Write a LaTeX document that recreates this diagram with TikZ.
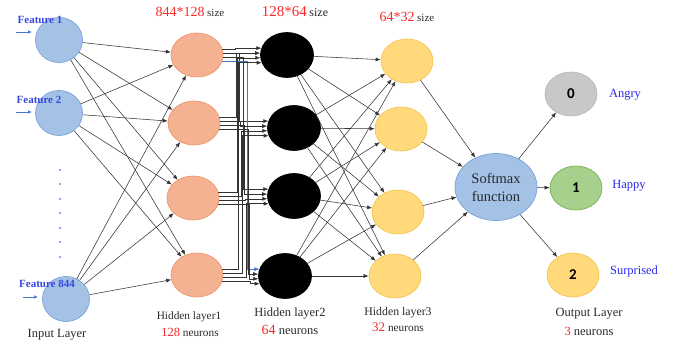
\documentclass[tikz,border=0pt]{standalone}
\usepackage{fontspec}
\setmainfont{Liberation Serif}
\newfontfamily\digitfont{Carlito}
\usetikzlibrary{shapes.geometric,arrows.meta}
\definecolor{inpfill}{RGB}{164,194,230}
\definecolor{inpdraw}{RGB}{120,162,214}
\definecolor{hofill}{RGB}{244,178,146}
\definecolor{hodraw}{RGB}{238,150,110}
\definecolor{hyfill}{RGB}{255,217,122}
\definecolor{hydraw}{RGB}{244,196,84}
\definecolor{grfill}{RGB}{200,200,200}
\definecolor{grdraw}{RGB}{186,186,186}
\definecolor{gnfill}{RGB}{168,208,141}
\definecolor{gndraw}{RGB}{120,175,80}
\definecolor{redc}{RGB}{250,40,40}
\definecolor{bluec}{RGB}{40,40,235}
\definecolor{featblue}{RGB}{55,70,225}
\definecolor{arrblue}{RGB}{70,120,200}
\definecolor{txt}{RGB}{40,40,40}
\tikzset{
  neuron/.style={ellipse, line width=0.7pt, inner sep=0pt},
  inp/.style={neuron, fill=inpfill, draw=inpdraw, minimum width=47pt, minimum height=45pt},
  hone/.style={neuron, fill=hofill, draw=hodraw, minimum width=52pt, minimum height=44pt},
  htwo/.style={neuron, fill=black, draw=black, minimum width=53pt, minimum height=45pt},
  hthree/.style={neuron, fill=hyfill, draw=hydraw, minimum width=52pt, minimum height=44pt},
  smax/.style={neuron, fill=inpfill, draw=inpdraw, minimum width=82pt, minimum height=67pt, align=center, text=txt, font=\fontsize{14.5}{18}\selectfont},
  outn/.style={neuron, minimum width=52pt, minimum height=44pt, font=\digitfont\bfseries\fontsize{15}{17}\selectfont, text=black},
  conn/.style={draw=black!80, line width=0.55pt, -{Latex[length=5pt,width=4pt]}},
  busline/.style={draw=black!80, line width=0.55pt, -{Latex[length=5pt,width=4pt]}},
  featarrow/.style={draw=arrblue, line width=0.7pt, -{Latex[length=4pt,width=3.5pt]}},
  lbl/.style={text=txt, inner sep=0pt, align=center},
  cls/.style={text=bluec, inner sep=0pt, font=\fontsize{12.5}{14}\selectfont},
  feat/.style={text=featblue, inner sep=0pt, font=\bfseries\fontsize{11}{13}\selectfont}
}
\begin{document}
\begin{tikzpicture}[x=1pt,y=-1pt]
\useasboundingbox (0,0) rectangle (674,342);

% input layer
\node[inp] (I1) at (59,40) {};
\node[inp] (I2) at (59,113) {};
\node[inp] (I3) at (66,299) {};
\foreach \y in {170,184,199,213,228,242,257} \fill[featblue] (60,\y) circle (0.9pt);

% hidden layer 1
\node[hone] (A1) at (197,55) {};
\node[hone] (A2) at (194,123) {};
\node[hone] (A3) at (193,198) {};
\node[hone] (A4) at (197,275) {};

% hidden layer 2
\node[htwo] (B1) at (287,55) {};
\node[htwo] (B2) at (294,128) {};
\node[htwo] (B3) at (294,196) {};
\node[htwo] (B4) at (285,276) {};

% hidden layer 3
\node[hthree] (C1) at (407,61) {};
\node[hthree] (C2) at (401,129) {};
\node[hthree] (C3) at (398,212) {};
\node[hthree] (C4) at (395,276) {};

% softmax and outputs
\node[smax] (S) at (496,187) {Softmax\\function};
\node[outn, fill=grfill, draw=grdraw] (O0) at (571,94) {0};
\node[outn, fill=gnfill, draw=gndraw] (O1) at (576,188) {1};
\node[outn, fill=hyfill, draw=hydraw] (O2) at (573,275) {2};

% input -> hidden1
\foreach \i in {1,2,3} \foreach \j in {1,...,4} \draw[conn] (I\i) -- (A\j);

% hidden1 -> hidden2 (bus)
\foreach \i/\ai in {1/165,2/176,3/186,4/197}
  \foreach \j/\aj in {1/13,2/4,3/356,4/347} {
    \pgfmathsetmacro\xb{230+4*\j+\i}
    \ifnum\i=1 \ifnum\j=4 \def\bc{arrblue}\else\def\bc{black!80}\fi\else\def\bc{black!80}\fi
    \draw[busline, draw=\bc] (A\i.\aj) -- (\xb,0 |- A\i.\aj) -- (\xb,0 |- B\j.\ai) -- (B\j.\ai);
  }

% hidden2 -> hidden3
\foreach \i in {1,...,4} \foreach \j in {1,...,4} \draw[conn] (B\i) -- (C\j);
% hidden3 -> softmax
\foreach \j in {1,...,4} \draw[conn] (C\j) -- (S);
% softmax -> outputs
\draw[conn] (S) -- (O0);
\draw[conn] (S) -- (O1);
\draw[conn] (S) -- (O2);

% feature arrows
\coordinate (f1s) at (16,32); \coordinate (f1e) at (32,32);
\coordinate (f2s) at (16,112); \coordinate (f2e) at (32,112);
\coordinate (f3s) at (23,297); \coordinate (f3e) at (38,297);
\draw[featarrow] (f1s) -- (f1e);
\draw[featarrow] (f2s) -- (f2e);
\draw[featarrow] (f3s) -- (f3e);

% feature labels
\node[feat] (l1) at (40,20) {Feature 1};
\node[feat] (l2) at (39,100) {Feature 2};
\node[feat] (l3) at (47,284) {Feature 844};

% size labels
\node[lbl] (s1) at (190,12) {{\color{redc}\fontsize{14}{16}\selectfont 844*128} {\fontsize{11}{13}\selectfont size}};
\node[lbl] (s2) at (295,12) {{\color{redc}\fontsize{15}{17}\selectfont 128*64} {\fontsize{12}{14}\selectfont size}};
\node[lbl] (s3) at (407,17) {{\color{redc}\fontsize{14}{16}\selectfont 64*32} {\fontsize{11}{13}\selectfont size}};

% layer labels
\node[lbl, font=\fontsize{12.5}{14}\selectfont] (L0) at (57,335) {Input Layer};
\node[lbl, font=\fontsize{11.3}{13}\selectfont] (L1a) at (189,317) {Hidden layer1};
\node[lbl, font=\fontsize{11.3}{13}\selectfont] (L1b) at (190,332) {{\color{redc}\fontsize{12.5}{14}\selectfont 128} neurons};
\node[lbl, font=\fontsize{12.5}{14}\selectfont] (L2a) at (290,314) {Hidden layer2};
\node[lbl, font=\fontsize{12.5}{14}\selectfont] (L2b) at (290,330) {{\color{redc}\fontsize{14}{16}\selectfont 64} neurons};
\node[lbl, font=\fontsize{11.8}{13}\selectfont] (L3a) at (398,313) {Hidden layer3};
\node[lbl, font=\fontsize{11.3}{13}\selectfont] (L3b) at (398,327) {{\color{redc}\fontsize{13}{15}\selectfont 32} neurons};
\node[lbl, font=\fontsize{12.5}{14}\selectfont] (L4a) at (589,314) {Output Layer};
\node[lbl, font=\fontsize{12.5}{14}\selectfont] (L4b) at (589,331) {{\color{redc}3} neurons};

% class labels
\node[cls] (c0) at (625,95) {Angry};
\node[cls] (c1) at (629,186) {Happy};
\node[cls] (c2) at (634,271) {Surprised};
\end{tikzpicture}
\end{document}
